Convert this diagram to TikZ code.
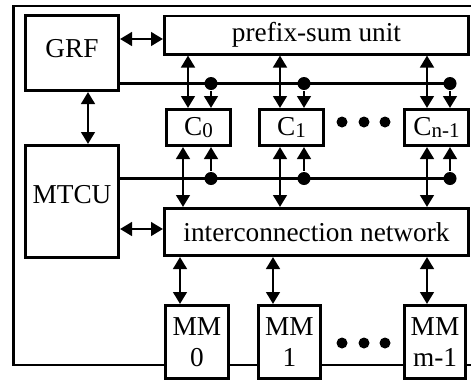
\documentclass[tikz,border=0pt]{standalone}
\usepackage{fontspec}
\setmainfont{Liberation Serif}
\usetikzlibrary{arrows.meta}
\newcommand\cidx[1]{{\fontsize{21}{21}\selectfont\raisebox{-1.5pt}{#1}}}
\begin{document}
\begin{tikzpicture}[x=1pt,y=-1pt,
  line width=2.8pt,
  >={Triangle[length=12pt,width=13.5pt]},
  box/.style={draw,fill=white,inner sep=0pt,align=center,
    font=\fontsize{27.3}{31}\selectfont},
  lbl/.style={inner sep=0pt,anchor=base,font=\fontsize{27.3}{31}\selectfont},
  jdot/.style={circle,fill,inner sep=0pt,minimum size=13pt},
  edot/.style={circle,fill,inner sep=0pt,minimum size=11pt},
  link/.style={<->},
  feed/.style={->}]
\useasboundingbox (0,0) rectangle (471,381);

% outer frame (open on the right)
\coordinate (fTR) at (471,6);
\coordinate (fTL) at (13.5,6);
\coordinate (fBL) at (13.5,365);
\coordinate (fBR) at (471,365);
\draw (fTR) -- (fTL) -- (fBL) -- (fBR);

% blocks
\node[box,minimum width=93.2pt,minimum height=75.2pt] (GRF) at (72,53) {};
\node[lbl] (GRFt) at (72,57) {GRF};
\node[box,minimum width=304.2pt,minimum height=38.2pt] (prefix) at (316.5,35) {prefix-sum unit};
\node[box,minimum width=93.2pt,minimum height=112.2pt] (MTCU) at (72,201.5) {};
\node[lbl] (MTCUt) at (72,203) {MTCU};
\node[box,minimum width=304.2pt,minimum height=47.2pt] (net) at (316.5,232) {interconnection network};

\node[box,minimum width=64.2pt,minimum height=36.2pt] (C0) at (198.5,127.5) {C\cidx{0}};
\node[box,minimum width=64.2pt,minimum height=36.2pt] (C1) at (291.5,127.5) {C\cidx{1}};
\node[box,minimum width=64.2pt,minimum height=36.2pt] (Cn) at (436.5,127.5) {C\cidx{n-1}};

\node[box,minimum width=63.2pt,minimum height=73.2pt] (MM0) at (197,342) {MM\\0};
\node[box,minimum width=62.2pt,minimum height=73.2pt] (MM1) at (289.5,342) {MM\\1};
\node[box,minimum width=61.2pt,minimum height=73.2pt] (MMm) at (435,342) {MM\\m-1};

% ellipses between processor and memory columns
\foreach \x/\k in {342/1,364/2,385/3} {
  \node[edot] (ec\k) at (\x,122) {};
  \node[edot] (em\k) at (\x,343) {};
}

% GRF links
\coordinate (gp) at (0,39);
\coordinate (gm) at (88,0);
\coordinate (mn) at (0,229);
\draw[link] (GRF.east |- gp) -- (prefix.west |- gp);
\draw[link] (GRF.south -| gm) -- (MTCU.north -| gm);
\draw[link] (MTCU.east |- mn) -- (net.west |- mn);

% processor columns: prefix-sum link, broadcast taps, network link
\foreach \c/\u/\d/\v in {C0/188/211/183, C1/280/304/280, Cn/427/450/427} {
  \coordinate (\c-u) at (\u,0);
  \coordinate (\c-v) at (\v,0);
  \node[jdot] (\c-j1) at (\d,83.5) {};
  \node[jdot] (\c-j2) at (\d,178.5) {};
  \draw[link] (prefix.south -| \c-u) -- (\c.north -| \c-u);
  \draw[feed] (\c-j1) -- (\c.north -| \c-j1);
  \draw[feed] (\c-j2) -- (\c.south -| \c-j2);
  \draw[link] (\c.south -| \c-v) -- (net.north -| \c-v);
}

% broadcast buses from GRF and MTCU
\draw (GRF.east |- Cn-j1) -- (Cn-j1.center);
\draw (MTCU.east |- Cn-j2) -- (Cn-j2.center);

% memory modules
\foreach \m/\x in {MM0/180, MM1/273, MMm/427} {
  \coordinate (\m-a) at (\x,0);
  \draw[link] (net.south -| \m-a) -- (\m.north -| \m-a);
}
\end{tikzpicture}
\end{document}
